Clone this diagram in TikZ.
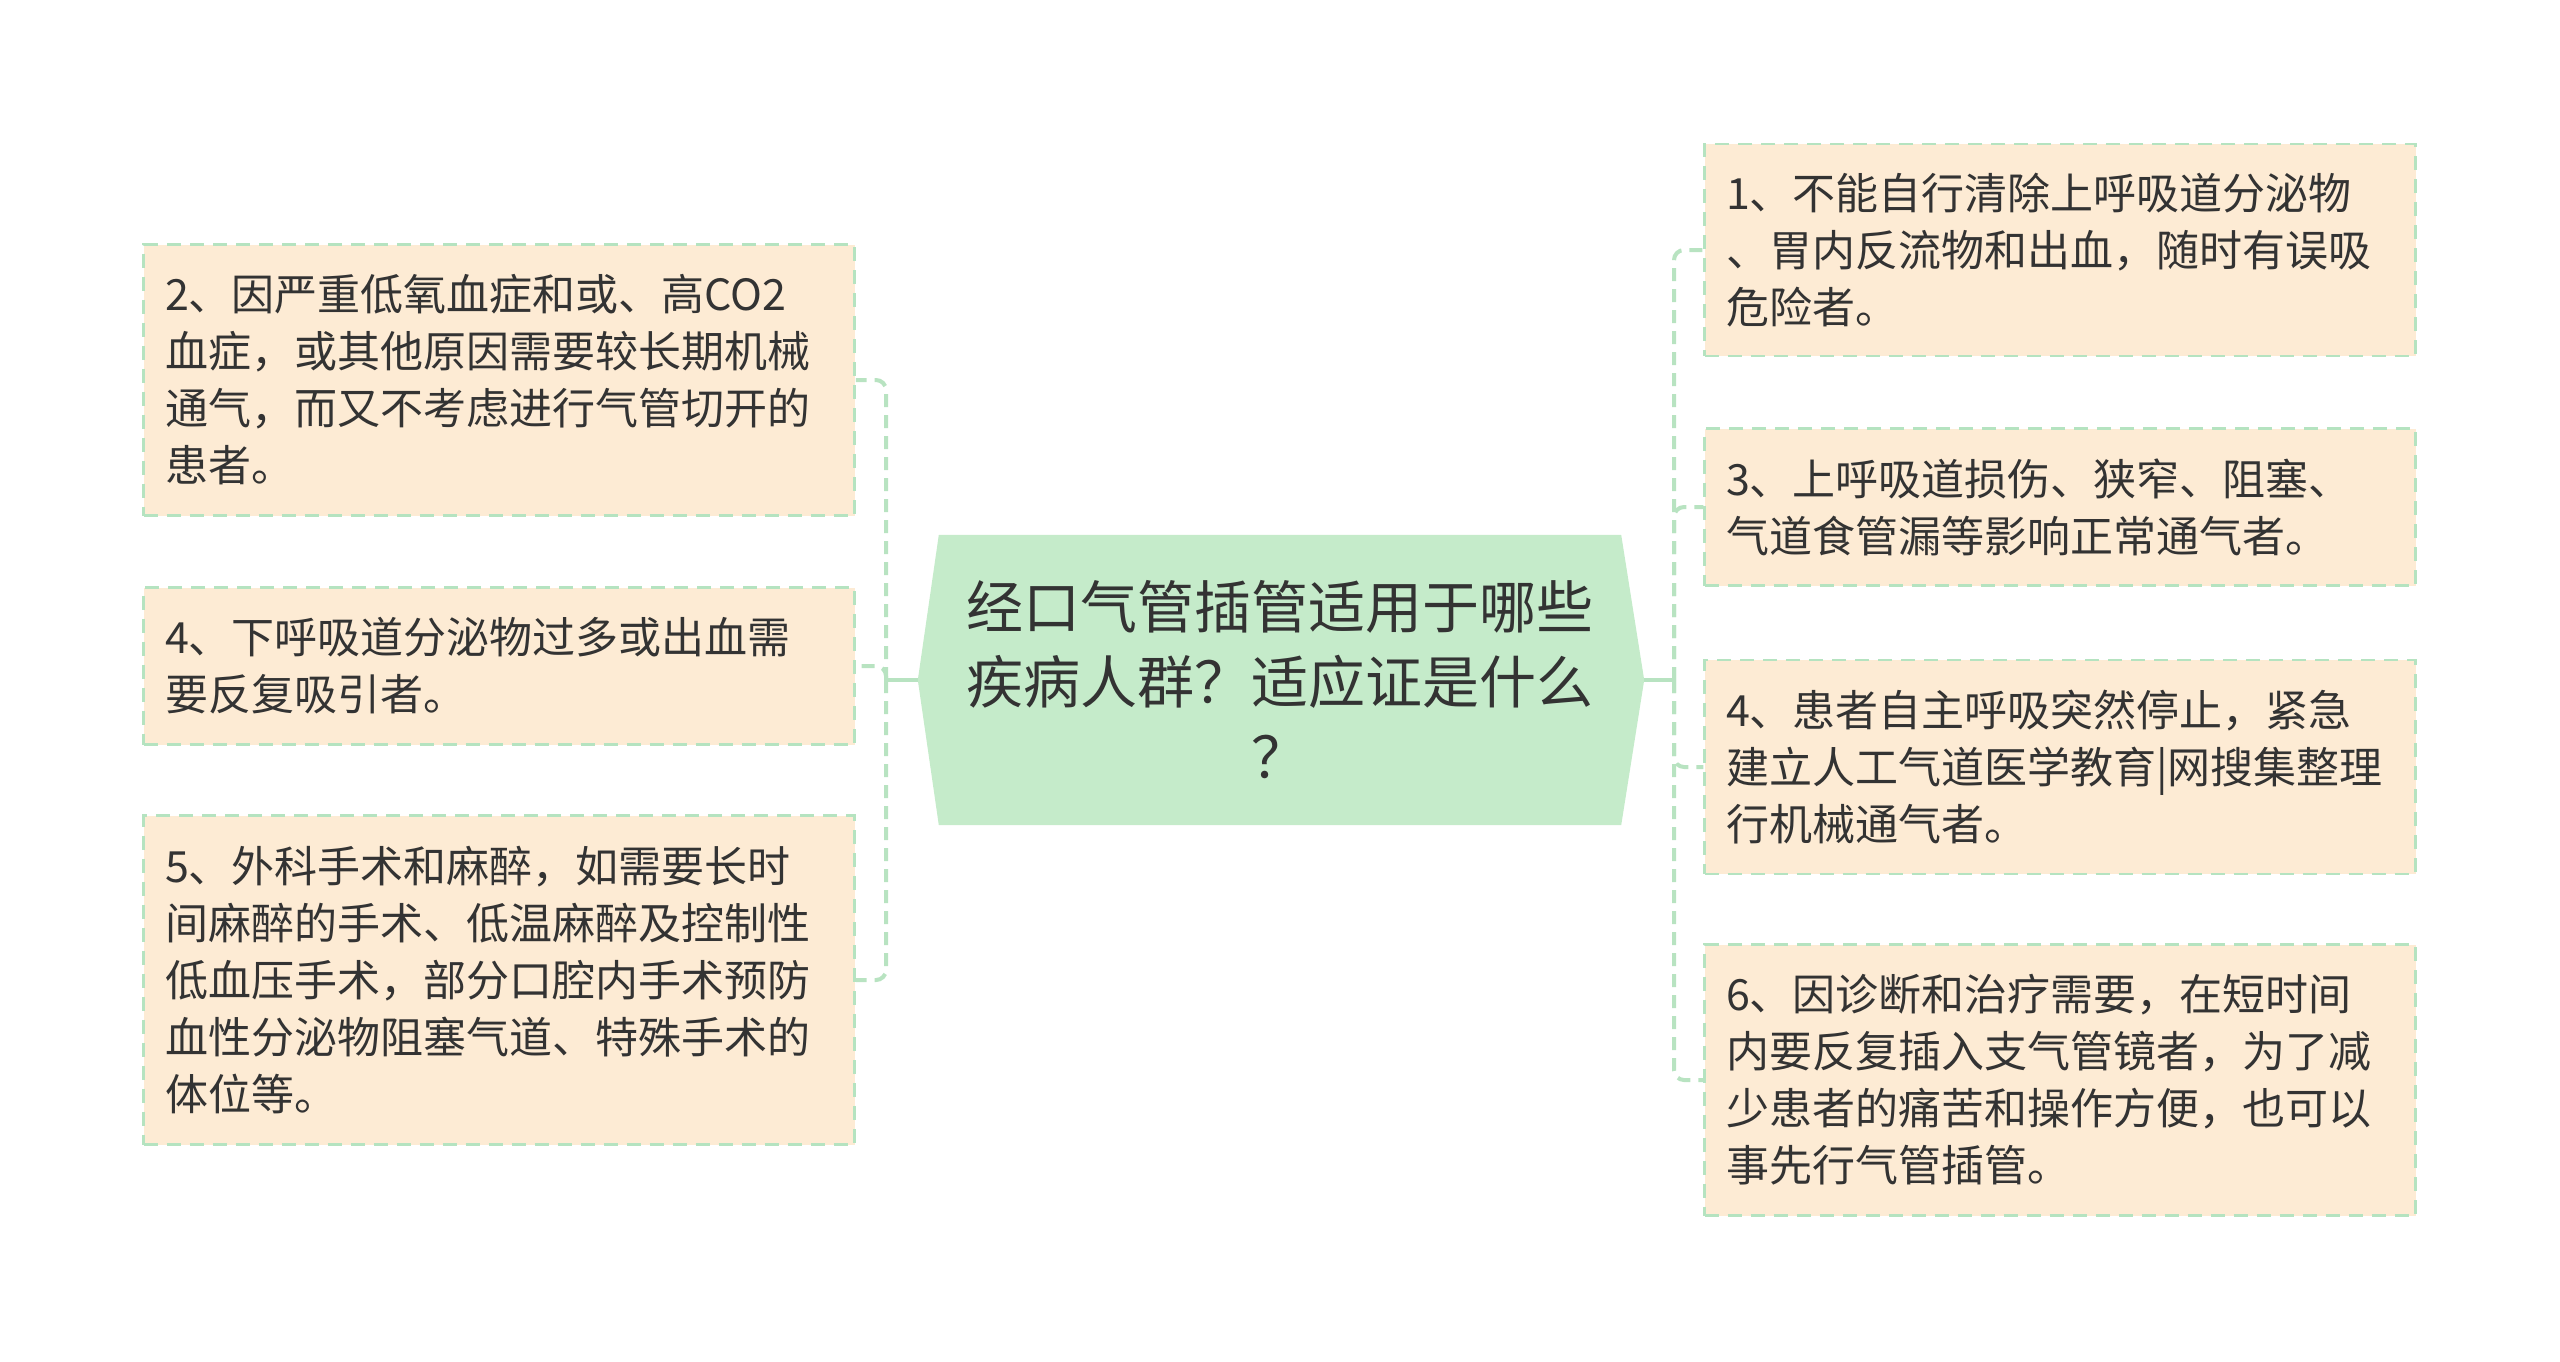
\documentclass[tikz,border=0pt]{standalone}
\usepackage{fontspec}
\newfontfamily\cjk{Noto Sans CJK SC}
\usetikzlibrary{backgrounds}
\definecolor{leaffill}{HTML}{FDEBD4}
\definecolor{leafline}{HTML}{B5E3C0}
\definecolor{rootfill}{HTML}{C5EBCA}
\definecolor{linkline}{HTML}{B8E3C1}
\definecolor{ink}{HTML}{333333}
\tikzset{
  leaf/.style={draw=leafline, fill=leaffill, line width=2.5pt,
    dash pattern=on 14pt off 9pt, minimum width=711pt, text width=668pt,
    inner xsep=21pt, inner ysep=0pt, align=left, text=ink,
    font=\cjk\fontsize{43pt}{57pt}\selectfont},
  root/.style={minimum width=682pt, minimum height=290pt, text width=650pt,
    inner sep=0pt, align=center, text=ink,
    font=\cjk\fontsize{57pt}{75pt}\selectfont},
  link/.style={draw=linkline, line width=4pt, dash pattern=on 13pt off 8pt,
    rounded corners=10pt},
  rootlink/.style={draw=linkline, line width=4.5pt},
}
\begin{document}
\begin{tikzpicture}[x=1pt,y=-1pt]
      \useasboundingbox (0,0) rectangle (2560,1361);
      \node[root] (root) at (1280,680)
        {经口气管插管适用于哪些\\疾病人群？适应证是什么\\？};
      \begin{scope}[on background layer]
        \fill[rootfill] ([xshift=-21pt]root.west) -- (root.north west)
          -- (root.north east) -- ([xshift=23pt]root.east)
          -- (root.south east) -- (root.south west) -- cycle;
      \end{scope}
      % left side
      \node[leaf, minimum height=271pt] (l2) at (499,380)
        {2、因严重低氧血症和或、高CO2\\血症，或其他原因需要较长期机械\\通气，而又不考虑进行气管切开的\\患者。};
      \node[leaf, minimum height=157pt] (l4) at (499,666)
        {4、下呼吸道分泌物过多或出血需\\要反复吸引者。};
      \node[leaf, minimum height=329pt] (l5) at (499,980)
        {5、外科手术和麻醉，如需要长时\\间麻醉的手术、低温麻醉及控制性\\低血压手术，部分口腔内手术预防\\血性分泌物阻塞气道、特殊手术的\\体位等。};
      % right side
      \node[leaf, minimum height=212pt] (r1) at (2060,250)
        {1、不能自行清除上呼吸道分泌物\\、胃内反流物和出血，随时有误吸\\危险者。};
      \node[leaf, minimum height=157pt] (r3) at (2060,507)
        {3、上呼吸道损伤、狭窄、阻塞、\\气道食管漏等影响正常通气者。};
      \node[leaf, minimum height=214pt] (r4) at (2060,767)
        {4、患者自主呼吸突然停止，紧急\\建立人工气道医学教育|网搜集整理\\行机械通气者。};
      \node[leaf, minimum height=271pt] (r6) at (2060,1080)
        {6、因诊断和治疗需要，在短时间\\内要反复插入支气管镜者，为了减\\少患者的痛苦和操作方便，也可以\\事先行气管插管。};
      \coordinate (ltrunk) at (886,680);
      \coordinate (rtrunk) at (1674,680);
      \draw[rootlink] ([xshift=-21pt]root.west) -- (ltrunk);
      \draw[rootlink] ([xshift=23pt]root.east) -- (rtrunk);
      \begin{scope}[link]
        \draw (ltrunk) |- (l2.east);
        \draw (ltrunk) |- (l4.east);
        \draw (ltrunk) |- (l5.east);
        \draw (rtrunk) |- (r1.west);
        \draw (rtrunk) |- (r3.west);
        \draw (rtrunk) |- (r4.west);
        \draw (rtrunk) |- (r6.west);
      \end{scope}
    \end{tikzpicture}
\end{document}
